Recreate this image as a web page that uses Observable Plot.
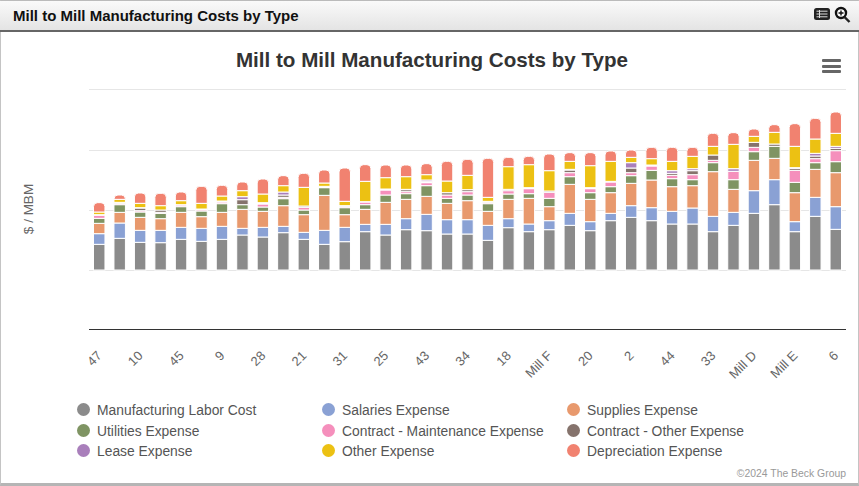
<!DOCTYPE html>
<html><head><meta charset="utf-8">
<script src="https://cdn.jsdelivr.net/npm/d3@7"></script>
<script src="https://cdn.jsdelivr.net/npm/@observablehq/plot@0.6"></script>
<style>
html,body{margin:0;padding:0;background:#fff}
body{width:859px;height:486px;overflow:hidden;position:relative;font-family:"Liberation Sans",Arial,sans-serif}
#frame{position:absolute;left:0;top:0;width:857px;height:482px;border:1px solid #c4c4c4;border-bottom:3px solid #b5b5b5;border-top:1px solid #bbb}
#head{position:absolute;left:0;top:1px;width:859px;height:29px;background:linear-gradient(#fafafa,#e4e4e4);border-bottom:2px solid #666}
#head .t{position:absolute;left:13px;top:6px;font-size:15px;font-weight:bold;color:#111}
#head svg{position:absolute;top:-1px;left:0}
#title{position:absolute;left:0;width:864px;top:48px;text-align:center;font-size:20.6px;font-weight:bold;color:#333}
.burger{position:absolute;left:822px;width:19px;height:3px;background:#666;border-radius:1px}
#ylab{position:absolute;left:28px;top:209px;transform:translate(-50%,-50%) rotate(-90deg);font-size:13.5px;color:#666;white-space:nowrap}
#chart{position:absolute;left:0;top:0}
.lg{position:absolute;font-size:13.85px;color:#555;white-space:nowrap;line-height:16px}
.dot{position:absolute;width:13px;height:13px;border-radius:50%}
#credit{position:absolute;right:13px;top:468px;font-size:10.4px;color:#999}
</style></head><body>
<div id="frame"></div>
<div id="head"><div class="t">Mill to Mill Manufacturing Costs by Type</div>
<svg width="859" height="30"><rect x="814" y="8" width="16" height="12" rx="2.5" fill="#222"/><path d="M816.5 11.2h11M816.5 14h11M816.5 16.8h11M819.5 10v8" stroke="#ddd" stroke-width="1"/><circle cx="841" cy="13" r="5" fill="#fff" stroke="#111" stroke-width="2.4"/><path d="M844.5 17l5 5" stroke="#222" stroke-width="2.4"/><path d="M838.5 13h5M841 10.5v5" stroke="#111" stroke-width="1.4"/></svg></div>
<div id="title">Mill to Mill Manufacturing Costs by Type</div>
<div class="burger" style="top:59px"></div><div class="burger" style="top:65px"></div><div class="burger" style="top:70px"></div>
<div id="chart"></div>
<div id="ylab">$ / MBM</div>
<div id="legend"></div>
<div id="credit">©2024 The Beck Group</div>
<script>
const tickLabels = ["47","10","45","9","28","21","31","25","43","34","18","Mill F","20","2","44","33","Mill D","Mill E","6"];
const seriesNames = ["Manufacturing Labor Cost","Salaries Expense","Supplies Expense","Utilities Expense","Contract - Maintenance Expense","Contract - Other Expense","Lease Expense","Other Expense","Depreciation Expense"];
const seriesColors = ["#8b8b8b","#8aa1d4","#e8996d","#7f9463","#f58fbc","#85736c","#a97fbb","#ecc113","#f18270"];
const labor = [77,95,83,82,92,86,92,105,99,112,92,77,85,115,105,121,118,108,108,89,127,115,121,134,118,148,158,148,138,138,115,134,170,196,115,161,122];
const salaries = [32,46,36,37,36,39,39,20,29,19,21,42,43,22,32,33,49,43,43,45,27,23,27,36,27,22,35,39,38,48,46,39,68,75,30,57,68];
const supplies = [31,32,39,35,45,35,42,57,48,62,53,105,38,45,66,58,54,49,57,42,58,77,42,87,67,62,67,83,74,67,134,69,91,64,87,84,102];
const utilities = [15,23,16,16,17,17,26,14,13,21,14,23,21,14,22,17,32,15,17,23,16,14,25,23,20,18,23,29,24,18,27,29,26,36,31,20,33];
const contractMaint = [9,4,4,3,5,4,5,0,9,4,8,2,4,8,15,6,9,10,10,4,10,15,18,12,12,14,9,13,10,15,7,25,13,0,36,12,33];
const contractOther = [2,3,8,7,1,2,2,15,3,7,4,1,2,1,3,6,3,7,6,3,4,3,4,8,3,2,14,3,6,12,16,0,15,7,6,8,7];
const lease = [0,0,1,0,0,0,1,9,1,9,0,1,0,0,0,1,5,0,0,0,0,0,0,2,0,0,16,0,8,6,0,8,0,0,2,8,6];
const other = [8,9,13,13,12,17,15,18,26,19,56,10,13,61,34,38,16,35,43,12,68,69,61,24,66,60,16,19,28,37,26,73,18,35,64,43,39];
const depreciation = [28,13,31,37,26,51,32,26,45,30,42,39,100,50,38,35,33,59,48,117,28,25,50,26,39,31,22,34,42,27,39,35,22,23,68,62,64];
const allSeries = [labor,salaries,supplies,utilities,contractMaint,contractOther,lease,other,depreciation];
const gridTicks = [0,180,360,543];

// Stack the series for each mill so the topmost segment can carry its own rounded corners.
const rows = [];
labor.forEach((_,i)=>{
  let base=0;
  allSeries.forEach((vals,s)=>{
    rows.push({i,s:seriesNames[s],k:s,y1:base,y2:base+vals[i]});
    base+=vals[i];
  });
});
const xDomain = d3.range(labor.length);
const lastSeries = seriesNames.length-1;

const chart = Plot.plot({
  width:859,height:385,
  marginLeft:89,marginRight:13,marginTop:89,marginBottom:56,
  style:{background:"transparent",fontFamily:"'Liberation Sans',Arial,sans-serif"},
  x:{domain:xDomain,type:"band",paddingInner:0.44,paddingOuter:0.22,align:0.5,round:false},
  y:{domain:[-177,543],axis:null},
  color:{domain:seriesNames,range:seriesColors},
  marks:[
    Plot.ruleY(gridTicks,{stroke:"#e6e6e6",strokeWidth:1}),
    Plot.barY(rows.filter(d=>d.k!==lastSeries&&d.y2>d.y1),{x:"i",y1:"y1",y2:"y2",fill:"s",stroke:"#fff",strokeWidth:1}),
    Plot.barY(rows.filter(d=>d.k===lastSeries),{x:"i",y1:"y1",y2:"y2",fill:"s",stroke:"#fff",strokeWidth:1,ry1:4}),
    Plot.ruleY([-177],{stroke:"#333",strokeWidth:1}),
    Plot.axisX({ticks:xDomain.filter(i=>i%2===0),tickFormat:i=>tickLabels[i/2],tickRotate:-45,tickSize:0,tickPadding:24,fontSize:13,fill:"#666",label:null,anchor:"bottom"})
  ]
});
document.getElementById("chart").append(chart);

const lg=document.getElementById("legend");
const colX=[77,322,567], rowY=[403,424,444];
seriesNames.forEach((n,k)=>{
  const c=k%3,r=Math.floor(k/3);
  const d=document.createElement("div");d.className="dot";d.style.cssText=`left:${colX[c]}px;top:${rowY[r]}px;background:${seriesColors[k]}`;lg.append(d);
  const t=document.createElement("div");t.className="lg";t.textContent=n;t.style.cssText=`left:${colX[c]+20}px;top:${rowY[r]-1}px`;lg.append(t);
});
</script>
</body></html>
